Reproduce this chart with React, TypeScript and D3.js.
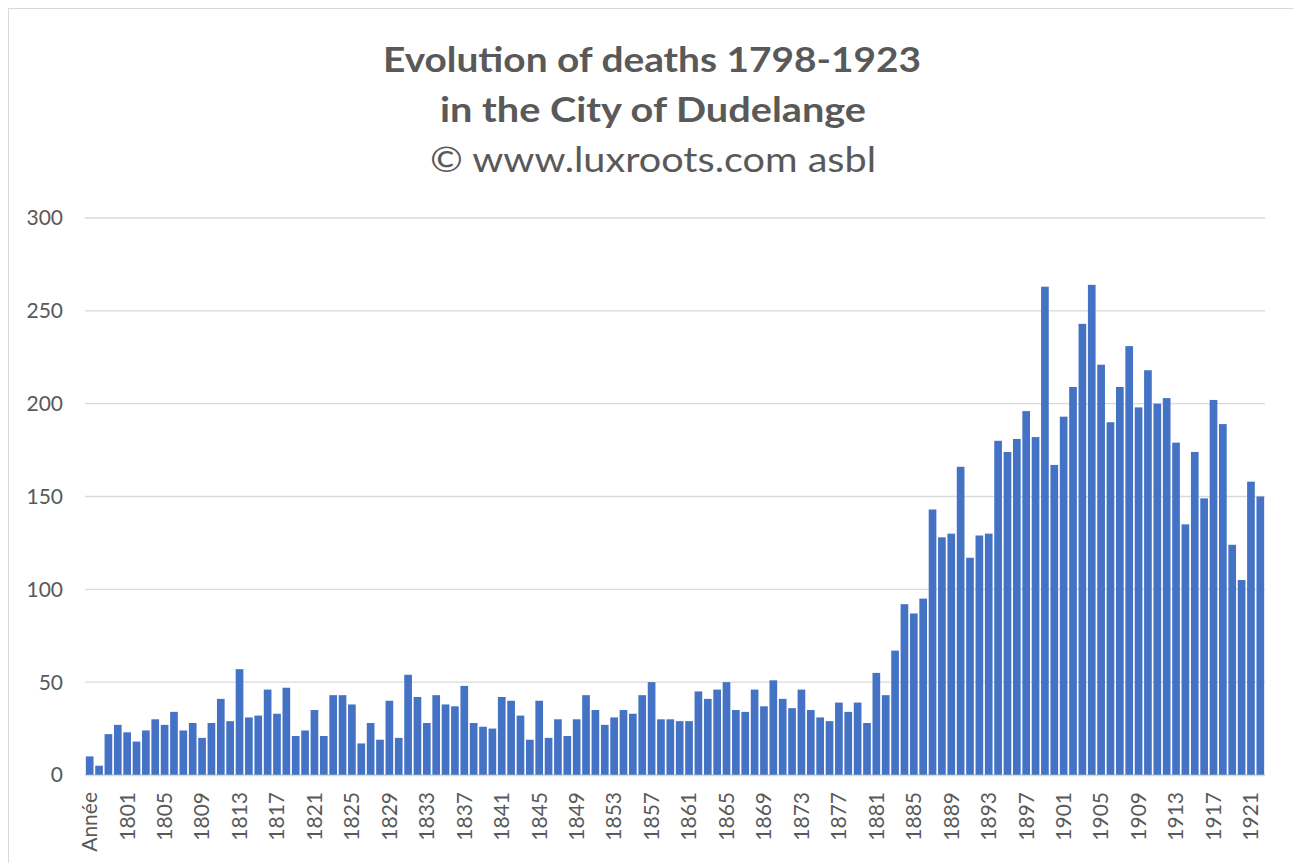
import React from "react";
import * as d3 from "d3";

const categories: string[] = ["Année", ...d3.range(1798, 1923).map(String)];

const deaths: number[] = [
  10, 5, 22, 27, 23, 18, 24, 30, 27, 34, 24, 28, 20, 28, 41, 29, 57, 31, 32, 46,
  33, 47, 21, 24, 35, 21, 43, 43, 38, 17, 28, 19, 40, 20, 54, 42, 28, 43, 38, 37,
  48, 28, 26, 25, 42, 40, 32, 19, 40, 20, 30, 21, 30, 43, 35, 27, 31, 35, 33, 43,
  50, 30, 30, 29, 29, 45, 41, 46, 50, 35, 34, 46, 37, 51, 41, 36, 46, 35, 31, 29,
  39, 34, 39, 28, 55, 43, 67, 92, 87, 95, 143, 128, 130, 166, 117, 129, 130, 180, 174, 181,
  196, 182, 263, 167, 193, 209, 243, 264, 221, 190, 209, 231, 198, 218, 200, 203, 179, 135, 174, 149,
  202, 189, 124, 105, 158, 150,
];

const yTicks: number[] = [0, 50, 100, 150, 200, 250, 300];

const titleLines: string[] = [
  "Evolution of deaths 1798-1923",
  "in the City of Dudelange",
  "© www.luxroots.com asbl",
];

const W = 1293;
const H = 863;
const FONT = "Lato, 'Open Sans', sans-serif";
const TEXT = "#595959";
const GRID = "#d9d9d9";

export default function App() {
  const x = d3
    .scaleBand<string>()
    .domain(categories)
    .range([85, 1265])
    .paddingInner(0.18)
    .paddingOuter(0.09);
  const y = d3.scaleLinear().domain([0, 300]).range([775, 218]);

  return (
    <svg
      width={W}
      height={H}
      style={{ position: "absolute", left: 0, top: 0, display: "block", background: "#fff" }}
      fontFamily={FONT}
    >
      <rect x={8.5} y={8.5} width={1300} height={900} fill="#fff" stroke={GRID} strokeWidth={1} />
      {/* title */}
      <text x={652} y={72} textAnchor="middle" fontSize={34} fontWeight="bold" fill={TEXT}
        textLength={538} lengthAdjust="spacingAndGlyphs">{titleLines[0]}</text>
      <text x={653} y={122} textAnchor="middle" fontSize={34} fontWeight="bold" fill={TEXT}
        textLength={426} lengthAdjust="spacingAndGlyphs">{titleLines[1]}</text>
      <text x={653} y={172} textAnchor="middle" fontSize={34} fill={TEXT}
        textLength={446} lengthAdjust="spacingAndGlyphs">{titleLines[2]}</text>

      {/* gridlines */}
      {yTicks.map((t) => (
        <g key={t}>
          <line x1={85} x2={1265} y1={y(t)} y2={y(t)} stroke={GRID} strokeWidth={t === 0 ? 1.8 : 1.3} />
          <text x={63} y={y(t)} dy="0.35em" textAnchor="end" fontSize={21} fill={TEXT}>
            {t}
          </text>
        </g>
      ))}

      {/* bars */}
      {categories.map((c, i) => (
        <rect
          key={c}
          x={x(c)!}
          y={y(deaths[i])}
          width={x.bandwidth()}
          height={y(0) - y(deaths[i])}
          fill="#4472C4"
        />
      ))}
      <line x1={85} x2={1265} y1={y(0) + 0.5} y2={y(0) + 0.5} stroke={GRID} strokeWidth={1.5} />

      {/* x labels */}
      {categories.map((c, i) =>
        i % 4 === 0 ? (
          <text
            key={"l" + c}
            transform={`translate(${x(c)! + x.bandwidth() / 2},792) rotate(-90)`}
            dy="0.35em"
            textAnchor="end"
            fontSize={21}
            fill={TEXT}
          >
            {c}
          </text>
        ) : null
      )}
    </svg>
  );
}
